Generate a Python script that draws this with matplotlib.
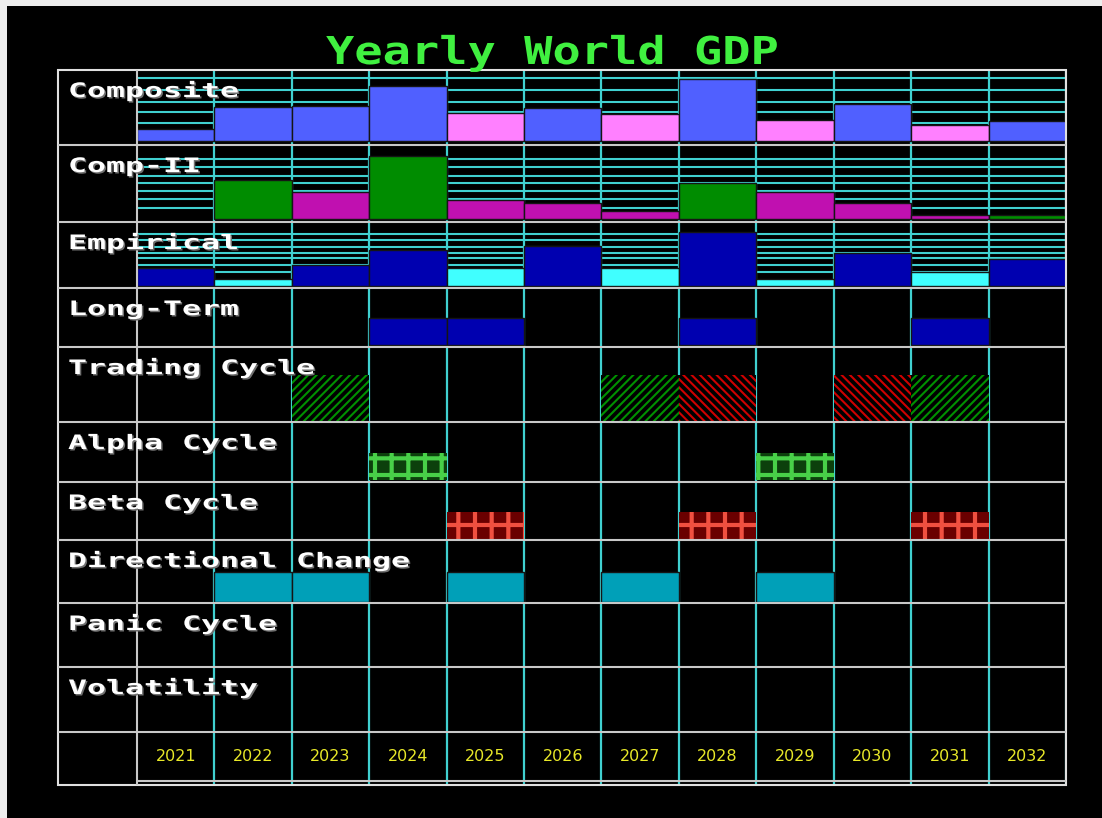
import matplotlib
matplotlib.use("Agg")
import matplotlib.pyplot as plt
from matplotlib.font_manager import FontProperties
from matplotlib.patches import PathPatch, Rectangle
from matplotlib.textpath import TextPath
from matplotlib.transforms import Affine2D

W, H = 1102, 818

# ---------- data ----------
years = list(range(2021, 2033))

composite = [12, 34, 35, 55, 28, 33, 27, 62, 21, 37, 16, 20]
composite_up = [1, 1, 1, 1, 0, 1, 0, 1, 0, 1, 0, 1]
composite_levels = [63, 51, 39, 29, 18]

comp2 = [0, 39, 27, 63, 19, 16, 8, 36, 27, 16, 4, 4]
comp2_up = [0, 1, 0, 1, 0, 0, 0, 1, 0, 0, 0, 1]
comp2_levels = [60, 52, 43, 36, 28, 20, 11]

empirical = [18, 7, 21, 36, 18, 40, 18, 54, 7, 33, 14, 27]
empirical_up = [1, 0, 1, 1, 0, 1, 0, 1, 0, 1, 0, 1]
empirical_levels = [52, 46, 39, 33, 28, 21, 14]

long_term = [2024, 2025, 2028, 2031]
trading_up = [2023, 2027, 2031]
trading_down = [2028, 2030]
alpha_cycle = [2024, 2029]
beta_cycle = [2025, 2028, 2031]
directional = [2022, 2023, 2025, 2027, 2029]
panic = []
volatility = []

row_labels = ["Composite", "Comp-II", "Empirical", "Long-Term", "Trading Cycle",
              "Alpha Cycle", "Beta Cycle", "Directional Change", "Panic Cycle",
              "Volatility"]
title = "Yearly World GDP"

# ---------- layout (pixels) ----------
GRID_L, LABEL_R, GRID_R = 58, 137, 1066
ROW_EDGES = [70, 145, 222, 288, 347, 422, 482, 540, 603, 667, 732, 785]
YEAR_LINE = 781

CYAN = "#40D0D0"
GRAY = "#C8C8C8"
EDGE = "#151515"
MONO = FontProperties(family="DejaVu Sans Mono", weight="bold")


def px_box(left, top, right, bottom):
    return [left / W, 1 - bottom / H, (right - left) / W, (bottom - top) / H]


def strip_axes(top, bottom):
    ax = fig.add_axes(px_box(LABEL_R, top, GRID_R, bottom))
    ax.set_xlim(years[0] - 0.5, years[-1] + 0.5)
    ax.axis("off")
    return ax


def pixel_text(s, x, baseline, cap, pitch, color, shadow=None):
    # stretched monospace text, placed in figure pixels
    path = TextPath((0, 0), s, size=1, prop=MONO)
    sx, sy = pitch / 0.602, cap / 0.729
    layers = [(1.5, shadow)] if shadow else []
    layers.append((0, color))
    for off, c in layers:
        tr = Affine2D().scale(sx / W, sy / H).translate((x + off) / W, 1 - (baseline + off) / H)
        fig.add_artist(PathPatch(path, transform=tr + fig.transFigure,
                                 facecolor=c, edgecolor="none"))


fig = plt.figure(figsize=(W / 100, H / 100), dpi=100, facecolor="black")

# column separators
cols = strip_axes(ROW_EDGES[0], ROW_EDGES[-1])
cols.set_ylim(0, 1)
for y in years:
    cols.axvline(y + 0.5, color=CYAN, lw=1.6)


def value_row(i, values, up, levels, c_up, c_down, pad):
    top, bottom = ROW_EDGES[i], ROW_EDGES[i + 1]
    ax = strip_axes(top, bottom)
    ax.set_ylim(-pad, bottom - top - pad)
    for lv in levels:
        ax.axhline(lv, color=CYAN, lw=1.5, zorder=1)
    xs = [y for y, v in zip(years, values) if v > 0]
    hs = [v for v in values if v > 0]
    cs = [c_up if u else c_down for u, v in zip(up, values) if v > 0]
    ax.bar(xs, hs, width=1.0, color=cs, edgecolor=EDGE, lw=1, zorder=2)


value_row(0, composite, composite_up, composite_levels, "#5060FF", "#FF80FF", 4)
value_row(1, comp2, comp2_up, comp2_levels, "#008C00", "#C010B0", 3)
value_row(2, empirical, empirical_up, empirical_levels, "#0000B0", "#40FFFF", 2)


def signal_row(i, yrs, pad, height, hatch_lw=1.0, **style):
    top, bottom = ROW_EDGES[i], ROW_EDGES[i + 1]
    ax = strip_axes(top, bottom)
    ax.set_ylim(0, bottom - top)
    if yrs:
        with plt.rc_context({"hatch.linewidth": hatch_lw}):
            ax.bar(yrs, height, bottom=pad, width=1.0, zorder=2, **style)
    return ax


signal_row(3, long_term, 2, 27, color="#0000B0", edgecolor=EDGE, lw=1)
signal_row(4, trading_up, 1, 46, hatch_lw=1.5, facecolor="black",
           edgecolor="#009000", hatch="////", lw=0)
signal_row(4, trading_down, 1, 46, hatch_lw=1.5, facecolor="black",
           edgecolor="#D00000", hatch="\\\\\\\\", lw=0)
signal_row(5, alpha_cycle, 2, 27, hatch_lw=3.0, facecolor="#0C400C",
           edgecolor="#48D048", hatch="+", lw=0)
signal_row(6, beta_cycle, 1, 27, hatch_lw=3.0, facecolor="#6A0000",
           edgecolor="#F05040", hatch="+", lw=0)
signal_row(7, directional, 1, 30, color="#00A0B8", edgecolor=EDGE, lw=1)
signal_row(8, panic, 1, 30, color="#00A0B8")
signal_row(9, volatility, 1, 30, color="#00A0B8")

# year labels
yr = strip_axes(ROW_EDGES[-2], YEAR_LINE)
yr.set_ylim(0, 1)
for y in years:
    yr.text(y, 0.5, str(y), ha="center", va="center", color="#E8E828",
            fontsize=11.5, family="DejaVu Sans")

# frame lines on top
frame = fig.add_axes([0, 0, 1, 1])
frame.set_xlim(0, W)
frame.set_ylim(H, 0)
frame.axis("off")
frame.add_patch(Rectangle((0, 0), W, 6, color="#EEEEEE", lw=0))
frame.add_patch(Rectangle((0, 0), 7, H, color="#EEEEEE", lw=0))
frame.hlines(ROW_EDGES[1:-1], GRID_L, GRID_R, color=GRAY, lw=1.5)
frame.vlines(LABEL_R, ROW_EDGES[0], ROW_EDGES[-1], color=GRAY, lw=1.5)
frame.hlines(YEAR_LINE, LABEL_R, GRID_R, color=GRAY, lw=1.5)
frame.add_patch(Rectangle((GRID_L, ROW_EDGES[0]), GRID_R - GRID_L,
                          ROW_EDGES[-1] - ROW_EDGES[0], fill=False, ec="#E0E0E0", lw=1.5))

# row labels and title
for i, lab in enumerate(row_labels):
    pixel_text(lab, 68, ROW_EDGES[i] + 27, 14.5, 19.0, "white", shadow="#707070")
pixel_text(title, 326, 64, 28, 28.3, "#40F040")

fig.savefig("out.png", dpi=100, facecolor="black")
